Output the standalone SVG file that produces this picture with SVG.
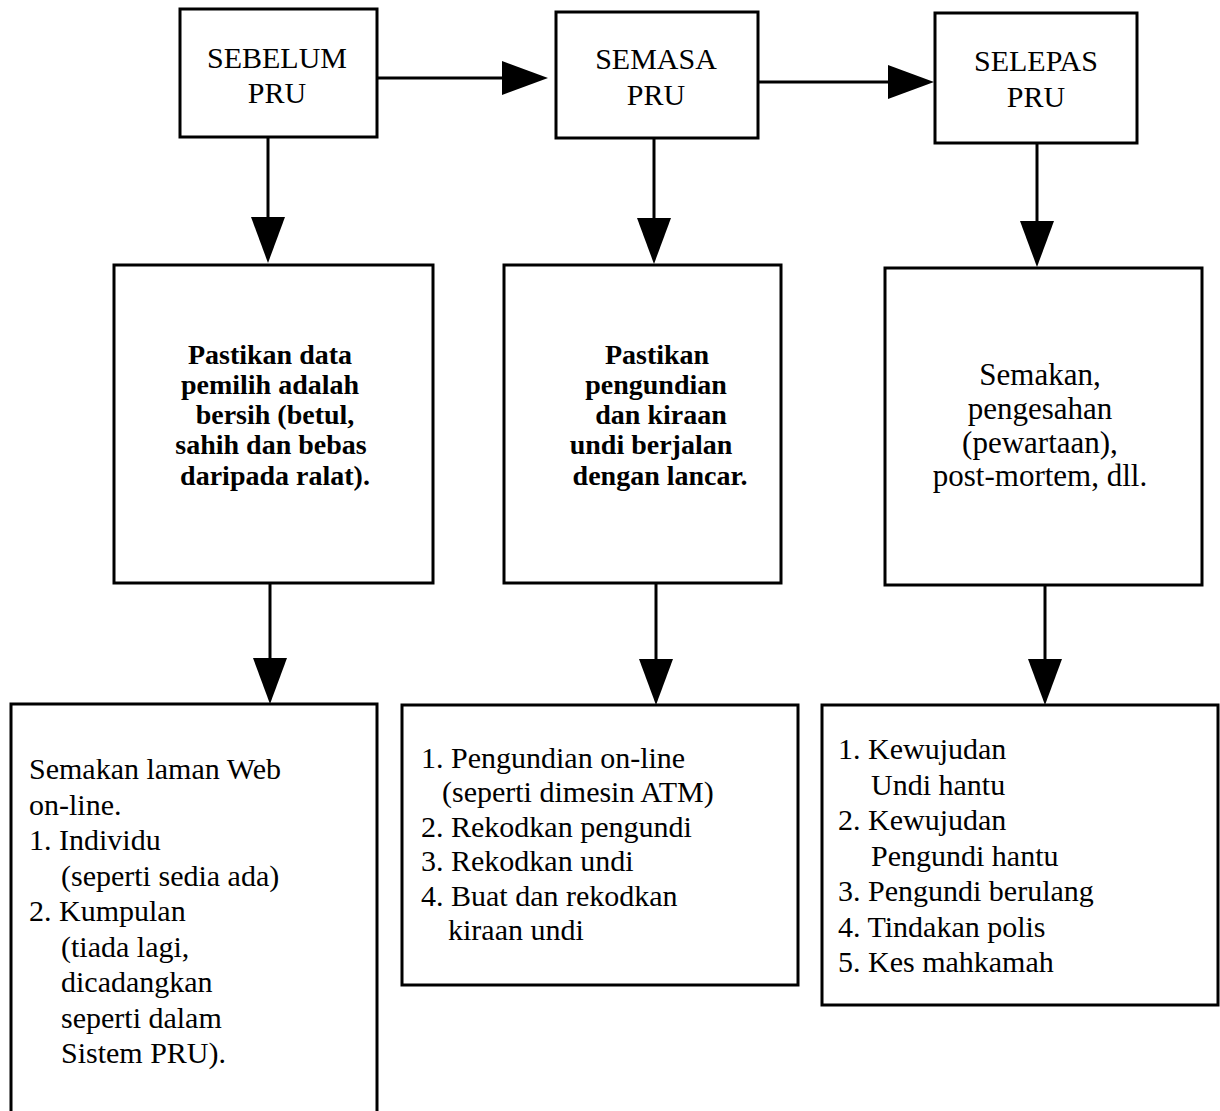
<svg xmlns="http://www.w3.org/2000/svg" width="1220" height="1111" viewBox="0 0 1220 1111">
<style>
.box{fill:#fff;stroke:#000;stroke-width:3}
.con{stroke:#000;stroke-width:3;fill:none}
.t{font-family:"Liberation Serif","Times New Roman",serif;fill:#000}
.hd{font-size:30px;text-anchor:middle}
.md{font-size:28px;font-weight:bold;text-anchor:middle}
.mr{font-size:31px;text-anchor:middle}
.ls{font-size:30px}
</style>
<defs>
<marker id="ah" viewBox="0 0 46 34" refX="2" refY="17" markerWidth="46" markerHeight="34" markerUnits="userSpaceOnUse" orient="auto">
<path d="M0,0 L46,17 L0,34 Z" fill="#000"/>
</marker>
</defs>
<rect width="1220" height="1111" fill="#fff"/>
<g id="connectors">
<line class="con" x1="377" y1="78" x2="504" y2="78" marker-end="url(#ah)"/>
<line class="con" x1="758" y1="82" x2="890" y2="82" marker-end="url(#ah)"/>
<line class="con" x1="268" y1="137" x2="268" y2="219" marker-end="url(#ah)"/>
<line class="con" x1="654" y1="138" x2="654" y2="220" marker-end="url(#ah)"/>
<line class="con" x1="1037" y1="143" x2="1037" y2="223" marker-end="url(#ah)"/>
<line class="con" x1="270" y1="583" x2="270" y2="660" marker-end="url(#ah)"/>
<line class="con" x1="656" y1="583" x2="656" y2="661" marker-end="url(#ah)"/>
<line class="con" x1="1045" y1="585" x2="1045" y2="661" marker-end="url(#ah)"/>
</g>
<g id="sebelum">
<rect class="box" x="180" y="9" width="197" height="128"/>
<text class="t hd" x="277" y="68">SEBELUM</text>
<text class="t hd" x="277" y="103">PRU</text>
</g>
<g id="semasa">
<rect class="box" x="556" y="12" width="202" height="126"/>
<text class="t hd" x="656" y="69">SEMASA</text>
<text class="t hd" x="656" y="105">PRU</text>
</g>
<g id="selepas">
<rect class="box" x="935" y="13" width="202" height="130"/>
<text class="t hd" x="1036" y="71">SELEPAS</text>
<text class="t hd" x="1036" y="107">PRU</text>
</g>
<g id="pastikan-data">
<rect class="box" x="114" y="265" width="319" height="318"/>
<text class="t md" x="270" y="364">Pastikan data</text>
<text class="t md" x="270" y="394">pemilih adalah</text>
<text class="t md" x="275" y="424">bersih (betul,</text>
<text class="t md" x="271" y="454">sahih dan bebas</text>
<text class="t md" x="275" y="485">daripada ralat).</text>
</g>
<g id="pastikan-pengundian">
<rect class="box" x="504" y="265" width="277" height="318"/>
<text class="t md" x="657" y="364">Pastikan</text>
<text class="t md" x="656" y="394">pengundian</text>
<text class="t md" x="661" y="424">dan kiraan</text>
<text class="t md" x="651" y="454">undi berjalan</text>
<text class="t md" x="660" y="485">dengan lancar.</text>
</g>
<g id="semakan">
<rect class="box" x="885" y="268" width="317" height="317"/>
<text class="t mr" x="1040" y="385">Semakan,</text>
<text class="t mr" x="1040" y="419">pengesahan</text>
<text class="t mr" x="1040" y="453">(pewartaan),</text>
<text class="t mr" x="1040" y="486">post-mortem, dll.</text>
</g>
<g id="semakan-web">
<rect class="box" x="11" y="704" width="366" height="420"/>
<text class="t ls" x="29" y="779">Semakan laman Web</text>
<text class="t ls" x="29" y="815">on-line.</text>
<text class="t ls" x="29" y="850">1. Individu</text>
<text class="t ls" x="61" y="886">(seperti sedia ada)</text>
<text class="t ls" x="29" y="921">2. Kumpulan</text>
<text class="t ls" x="61" y="957">(tiada lagi,</text>
<text class="t ls" x="61" y="992">dicadangkan</text>
<text class="t ls" x="61" y="1028">seperti dalam</text>
<text class="t ls" x="61" y="1063">Sistem PRU).</text>
</g>
<g id="pengundian-online">
<rect class="box" x="402" y="705" width="396" height="280"/>
<text class="t ls" x="421" y="768">1. Pengundian on-line</text>
<text class="t ls" x="442" y="802">(seperti dimesin ATM)</text>
<text class="t ls" x="421" y="837">2. Rekodkan pengundi</text>
<text class="t ls" x="421" y="871">3. Rekodkan undi</text>
<text class="t ls" x="421" y="906">4. Buat dan rekodkan</text>
<text class="t ls" x="448" y="940">kiraan undi</text>
</g>
<g id="kewujudan">
<rect class="box" x="822" y="705" width="396" height="300"/>
<text class="t ls" x="838" y="759">1. Kewujudan</text>
<text class="t ls" x="871" y="795">Undi hantu</text>
<text class="t ls" x="838" y="830">2. Kewujudan</text>
<text class="t ls" x="871" y="866">Pengundi hantu</text>
<text class="t ls" x="838" y="901">3. Pengundi berulang</text>
<text class="t ls" x="838" y="937">4. Tindakan polis</text>
<text class="t ls" x="838" y="972">5. Kes mahkamah</text>
</g>
</svg>
